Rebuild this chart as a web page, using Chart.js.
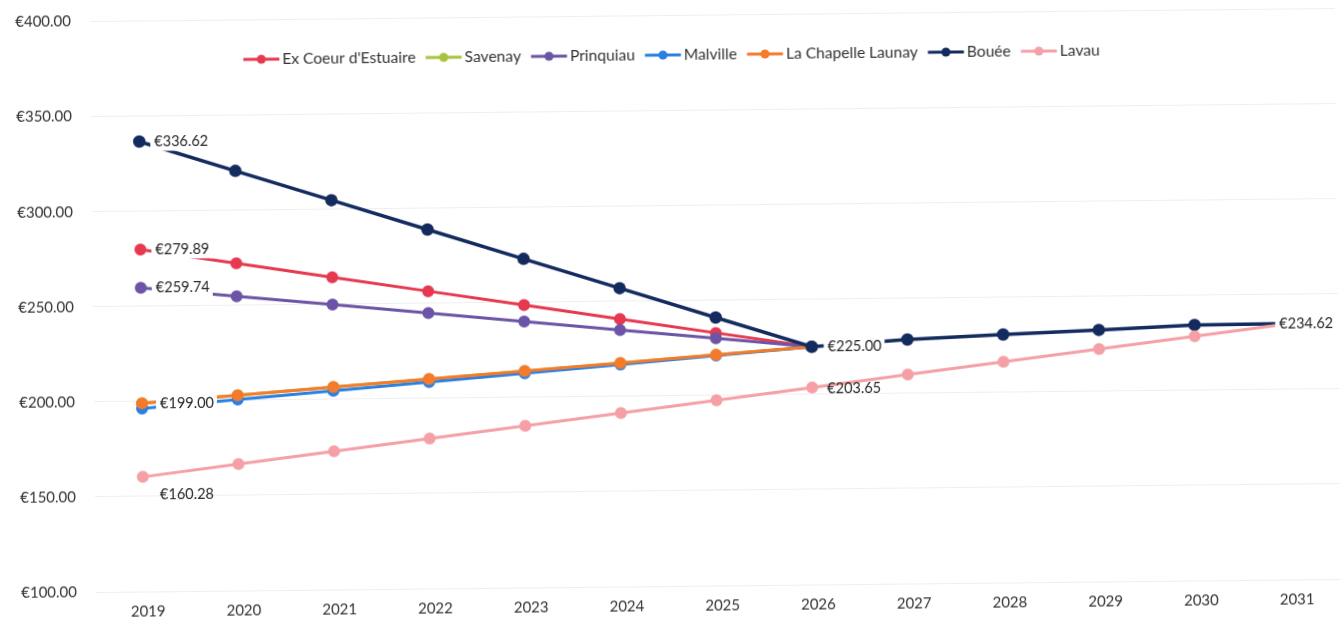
<!DOCTYPE html>
<html><head><meta charset="utf-8">
<script src="https://cdn.jsdelivr.net/npm/chart.js@4.4.1/dist/chart.umd.min.js"></script>
<style>
html,body{margin:0;padding:0;background:#fff;overflow:hidden;width:1342px;height:619px}
#wrap{position:absolute;left:0;top:0;width:1346px;height:619px;transform:rotate(-0.6deg);transform-origin:671px 309.5px}
canvas{display:block}
</style></head><body>
<div id="wrap"><canvas id="c" width="1346" height="619"></canvas></div>
<script>
// ---- data ----
const years = ['2019','2020','2021','2022','2023','2024','2025','2026','2027','2028','2029','2030','2031'];
const seriesNames = ['Ex Coeur d\'Estuaire','Savenay','Prinquiau','Malville','La Chapelle Launay','Bouée','Lavau'];
const exCoeur    = [279.89, 272.05, 264.21, 256.37, 248.53, 240.68, 232.84, 225.00, null, null, null, null, null];
const savenay    = [199.00, 202.71, 206.43, 210.14, 213.86, 217.57, 221.29, 225.00, null, null, null, null, null];
const prinquiau  = [259.74, 254.78, 249.81, 244.85, 239.89, 234.93, 229.96, 225.00, null, null, null, null, null];
const malville   = [196.28, 200.38, 204.49, 208.59, 212.69, 216.80, 220.90, 225.00, null, null, null, null, null];
const laChapelle = [199.00, 202.71, 206.43, 210.14, 213.86, 217.57, 221.29, 225.00, null, null, null, null, null];
const bouee      = [336.62, 320.67, 304.73, 288.78, 272.84, 256.89, 240.95, 225.00, 228.30, 230.40, 232.30, 234.40, 234.62];
const lavau      = [160.28, 166.48, 172.67, 178.87, 185.06, 191.26, 197.46, 203.65, 209.85, 216.04, 222.24, 228.43, 234.62];
const yTicks = [100, 150, 200, 250, 300, 350, 400];

// ---- styles ----
const colors = ['#e63950', '#a6c33c', '#6c55a6', '#2a80e2', '#f47b2b', '#132b5e', '#f4a0a6'];
const widths = [3, 3, 3, 3, 3, 3.5, 3];
const seriesData = [exCoeur, savenay, prinquiau, malville, laChapelle, bouee, lavau];
// data labels: dataset index, point index, placement
const labelPlacement = [
  {ds: 5, i: 0,  dx: 15,  dy: 0,  box: true},
  {ds: 0, i: 0,  dx: 15,  dy: 0,  box: true},
  {ds: 2, i: 0,  dx: 15,  dy: 0,  box: true},
  {ds: 4, i: 0,  dx: 18,  dy: 1,  box: true},
  {ds: 6, i: 0,  dx: 17,  dy: 18, box: false},
  {ds: 5, i: 7,  dx: 16,  dy: 0,  box: true},
  {ds: 6, i: 7,  dx: 15,  dy: 1,  box: false},
  {ds: 5, i: 12, dx: -11, dy: 0,  box: true}
];
const fmtEuro = v => '€' + Number(v).toFixed(2);

Chart.defaults.font.family = 'Lato';
Chart.defaults.color = '#333';

const datasets = seriesNames.map((name, k) => ({
  label: name,
  data: seriesData[k],
  borderColor: colors[k],
  backgroundColor: colors[k],
  pointBackgroundColor: colors[k],
  pointBorderColor: colors[k],
  borderWidth: widths[k],
  pointRadius: 4.5,
  pointHoverRadius: 4.5,
  tension: 0,
  order: -k,
  spanGaps: false
}));

const dataLabelPlugin = {
  id: 'dataLabels',
  afterDatasetsDraw(chart) {
    const ctx = chart.ctx;
    ctx.save();
    ctx.font = '14.5px Lato';
    ctx.textBaseline = 'middle';
    ctx.textAlign = 'left';
    labelPlacement.forEach(s => {
      const pt = chart.getDatasetMeta(s.ds).data[s.i];
      const v = chart.data.datasets[s.ds].data[s.i];
      const text = fmtEuro(v);
      const w = ctx.measureText(text).width;
      const x = pt.x + s.dx, y = pt.y + s.dy;
      if (s.box) {
        ctx.fillStyle = '#ffffff';
        ctx.fillRect(x - 4, y - 9.5, w + 7, 19);
      }
      ctx.fillStyle = '#262626';
      ctx.fillText(text, x, y);
    });
    ctx.restore();
  }
};

const legendPlugin = {
  id: 'customLegend',
  afterDraw(chart) {
    const ctx = chart.ctx;
    ctx.save();
    ctx.font = '15.6px Lato';
    ctx.textBaseline = 'middle';
    let x = 246;
    const y = 55;
    chart.data.datasets.forEach(ds => {
      ctx.strokeStyle = ds.borderColor;
      ctx.lineWidth = 3;
      ctx.beginPath();
      ctx.moveTo(x, y);
      ctx.lineTo(x + 36, y);
      ctx.stroke();
      ctx.fillStyle = ds.borderColor;
      ctx.beginPath();
      ctx.arc(x + 18, y, 4.5, 0, Math.PI * 2);
      ctx.fill();
      ctx.fillStyle = '#333';
      ctx.fillText(ds.label, x + 39, y);
      x += 39 + ctx.measureText(ds.label).width + 10;
    });
    ctx.restore();
  }
};

new Chart(document.getElementById('c'), {
  type: 'line',
  data: { labels: years, datasets },
  options: {
    responsive: false,
    animation: false,
    events: [],
    layout: { padding: { left: 18, right: 2, top: 15.5, bottom: 4 } },
    plugins: { legend: { display: false }, tooltip: { enabled: false } },
    scales: {
      x: {
        offset: true,
        afterFit: axis => { axis.height = 29; },
        grid: { display: false, drawTicks: false },
        border: { display: false },
        ticks: { font: { size: 15 }, color: '#333', padding: 11, labelOffset: 4, maxRotation: 0 }
      },
      y: {
        min: 100, max: 400,
        afterBuildTicks: axis => { axis.ticks = yTicks.map(v => ({ value: v })); },
        afterFit: axis => { axis.width = 75.2; axis.paddingTop = 0; axis.paddingBottom = 0; },
        grid: { color: '#efefef', lineWidth: 1, drawTicks: false },
        border: { display: false },
        ticks: { font: { size: 15 }, color: '#333', padding: 19.2, callback: v => fmtEuro(v) }
      }
    }
  },
  plugins: [dataLabelPlugin, legendPlugin]
});
</script>
</body></html>
